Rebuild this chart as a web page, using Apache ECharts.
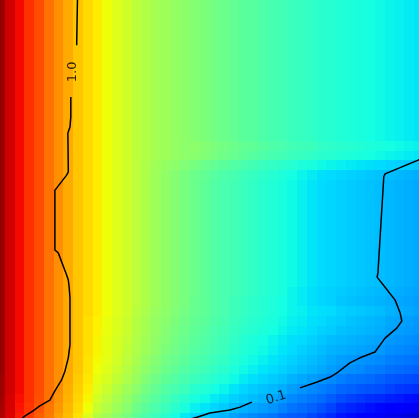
<!DOCTYPE html>
<html><head><meta charset="utf-8">
<script src="https://cdn.jsdelivr.net/npm/echarts/dist/echarts.min.js"></script>
<style>html,body{margin:0;padding:0;background:#fff;overflow:hidden}#c{width:419px;height:418px}</style>
</head><body><div id="c"></div>
<script>
// Column centres (x, 0..100) and row centres (y, top -> bottom)
const xCenters = [0,2.33,4.65,6.98,9.30,11.63,13.95,16.28,18.60,20.93,23.26,25.58,27.91,30.23,32.56,34.88,37.21,39.53,41.86,44.19,46.51,48.84,51.16,53.49,55.81,58.14,60.47,62.79,65.12,67.44,69.77,72.09,74.42,76.74,79.07,81.40,83.72,86.05,88.37,90.70,93.02,95.35,97.67,100];
const yCenters = [100,97.67,95.35,93.02,90.70,88.37,86.05,83.72,81.40,79.07,76.74,74.42,72.09,69.77,67.44,65.12,62.79,60.47,58.14,55.81,53.49,51.16,48.84,46.51,44.19,41.86,39.53,37.21,34.88,32.56,30.23,27.91,25.58,23.26,20.93,18.60,16.28,13.95,11.63,9.30,6.98,4.65,2.33,0];
// Field level (0..100 of the colour scale), one array per row, top -> bottom
const zRow00 = [98,93,90,86,83,79,76,73,70,68,66,64,62,60,58,56.5,55,54,53,52,51,50,49,48,47,46,45.5,44.5,43.5,43,42,41.5,41,40,39.5,39,38.5,38,37.5,37,36.5,36,35.5,35];
const zRow01 = [98,93,90,86,83,79,76,73,70,68,66,64,62,60,58,56.5,55,54,53,52,51,50,49,48,47,46,45.5,44.5,43.5,43,42,41.5,41,40,39.5,39,38.5,38,37.5,37,36.5,36,35.5,35];
const zRow02 = [98,93,90,86,83,79,76,73,70,68,66,64,62,60,58,56.5,55,54,53,52,51,50,49,48,47,46,45.5,44.5,43.5,43,42,41.5,41,40,39.5,39,38.5,38,37.5,37,36.5,36,35.5,35];
const zRow03 = [98,93,90,86,83,79,76,73,70,68,66,64,62,60,58,56.5,55,54,53,52,51,50,49,48,47,46,45.5,44.5,43.5,43,42,41.5,41,40,39.5,39,38.5,38,37.5,37,36.5,36,35.5,35];
const zRow04 = [98,93,90,86,83,79,76,73,70,68,66,64,62,60,58,56.5,55,54,53,52,51,50,49,48,47,46,45.5,44.5,43.5,43,42,41.5,41,40,39.5,39,38.5,38,37.5,37,36.5,36,35.5,35];
const zRow05 = [98,93,90,86,83,79,76,73,70,68,66,64,62,60,58,56.5,55,54,53,52,51,50,49,48,47,46,45.5,44.5,43.5,43,42,41.5,41,40,39.5,39,38.5,38,37.5,37,36.5,36,35.5,35];
const zRow06 = [98,93,90,86,83,79,76,73,70,68,66,64,62,60,58,56.5,55,54,53,52,51,50,49,48,47,46,45.5,44.5,43.5,43,42,41.5,41,40,39.5,39,38.5,38,37.5,37,36.5,36,35.5,35];
const zRow07 = [98,93,90,86,83,79,76,73,70,68,66,64,62,60,58,56.5,55,54,53,52,51,50,49,48,47,46,45.5,44.5,43.5,43,42,41.5,41,40,39.5,39,38.5,38,37.5,37,36.5,36,35.5,35];
const zRow08 = [98,93,90,86,83,79,76,73,70,68,66,64,62,60,58,56.5,55,54,53,52,51,50,49,48,47,46,45.5,44.5,43.5,43,42,41.5,41,40,39.5,39,38.5,38,37.5,37,36.5,36,35.5,35];
const zRow09 = [98,93,90,86,83,79,76,73,70,68,66,64,62,60,58,56.5,55,54,53,52,51,50,49,48,47,46,45.5,44.5,43.5,43,42,41.5,41,40,39.5,39,38.5,38,37.5,37,36.5,36,35.5,35];
const zRow10 = [98,93,90,86,83,79,76,73,70,68,66,64,62,60,58,56.5,55,54,53,52,51,50,49,48,47,46,45.5,44.5,43.5,43,42,41.5,41,40,39.5,39,38.5,38,37.5,37,36.5,36,35.5,35];
const zRow11 = [98,93,90,86,83,79,76,73,70,68,66,64,62,60,58,56.5,55,54,53,52,51,50,49,48,47,46,45.5,44.5,43.5,43,42,41.5,41,40,39.5,39,38.5,38,37.5,37,36.5,36,35.5,35];
const zRow12 = [98,93,90,86,83,79,76,73,70,68,66,64,62,60,58,56.5,55,54,53,52,51,50,49,48,47,46,45.5,44.5,43.5,43,42,41.5,41,40,39.5,39,38.5,38,37.5,37,36.5,36,35.5,35];
const zRow13 = [98,93,90,86,83,79,76,73,70,68,66,64,62,60,58,56.5,55,54,53,52,51,50,49,48,47,46,45.5,44.5,43.5,43,42,41.5,41,40,39.5,39,38.5,38,37.5,37,36.5,36,35.5,35];
const zRow14 = [98,93,90,86,83,79,76,73,70,68,66,64,62,60,58,56.5,55,54,53,52,51,50,49,48,47,46,45.5,44.5,43.5,43,42,41.5,41,40,39.5,39,38.5,38,37.5,37,36.5,36,35.5,35];
const zRow15 = [98,93,90,86,83,79,76,73,70,68,66,64,62,60,58,56.5,55,54,53,52,52,51,50,49,48,47,46.5,45.5,44.5,44,43,42.5,42,41,40.5,40,39.5,39,38.5,38,37.5,37,36.5,36];
const zRow16 = [98,93,90,86,83,79,76,73,70,68,66,64,62,60,58,56.5,55,54,53,52,51.5,50.5,49.5,48.5,47.5,46.5,45.5,44.5,43.5,43,42,41.5,41,40,39.5,39,38.5,38,37.5,37,36.5,36,35.5,35];
const zRow17 = [98,93,90,86,83,79,76,73,70,68,66,64,62,60,58,56,54.5,53,52,50.5,49.5,48,47,46,45,44,43,42,41,40.5,39.5,38.5,38,37,36.5,36,35.5,35,34.5,34,33.5,33,32.5,32];
const zRow18 = [98,93,90,86,83,79,76,73,70,68,66,64,62,60,58,56,54,52.5,51,49.5,48,47,45.5,44.5,43.5,42.5,41.5,40.5,39.5,38.5,37.5,36.5,35.5,34.5,34,33.5,33,32.5,32,31.5,31,30.5,30,29.5];
const zRow19 = [98,93,90,86,83,79,76,73,70,68,66,64,62,60,58,56,54,52.5,51,49.5,48,46.5,45,44,43,42,41,40,39,38,37,36,35,34,33.5,33,32.5,32,31.5,31,30.5,30,29.5,29];
const zRow20 = [98,93,90,86,83,79,76,73,70,68,66,64,62,60,58,56,54,52.5,51,49.5,48,46.5,45,44,43,42,41,40,39,38,37,36,35,34,33.5,33,32.5,32,31.5,31,30.5,30,29.5,29];
const zRow21 = [98,93,90,86,83,79,76,73,70,68,66,64,62,60,58,56,54,52.5,51,49.5,48,46.5,45,44,43,42,41,40,39,38,37,36,35,34,33.5,33,32.5,32,31.5,31,30.5,30,29.5,29];
const zRow22 = [98,93,90,86,83,79,76,73,70,68,66,64,62,60,58,56,54,52.5,51,49.5,48,46.5,45,44,43,42,41,40,39,38,37,36,35,34,33.5,33,32.5,32,31.5,31,30.5,30,29.5,29];
const zRow23 = [98,93,90,86,83,79,76,73,70,68,66,64,62,60,58,56,54,52.5,51,49.5,48,46.5,45,44,43,42,41,40,39,38,37,36,35,34,33.5,33,32.5,32,31.5,31,30.5,30,29.5,29];
const zRow24 = [98,93,90,86,83,79,76,73,70,68,66,64,62,60,58,56,54,52.5,51,49.5,48,46.5,45,44,43,42,41,40,39,38,37,36,35,34,33.5,33,32.5,32,31.5,31,30.5,30,29.5,29];
const zRow25 = [98,93,90,86,83,79,76,73,70,68,66,64,62,60,58,56,54,52.5,51,49.5,48,46.5,45,44,43,42,41,40,39,38,37,36,35,34,33.5,33,32.5,32,31.5,31,30.5,30,29.5,29];
const zRow26 = [98,93,90,86,83,79,76,73,70,68,66,64,62,60,58,56,54,52.5,51,49.5,48,46.5,45,44,43,42,41,40,39,38,37,36,35,34,33.5,33,32.5,32,31.5,31,30.5,30,29.5,29];
const zRow27 = [98,93,90,86,83,79,76,73,70,68,66,64,62,60,58,56,54,52.5,51,49.5,48,46.5,45,44,43,42,41,40,39,38,37,36,35,34,33.5,33,32.5,32,31.5,31,30.5,30,29.5,29];
const zRow28 = [98,93,90,86,83,79,76,73,70,68,66,64,62,60,58,56,54,52.5,51,49.5,48,46.5,45,44,43,42,41,40,39,38,37,36,35,34,33.5,33,32.5,32,31.5,31,30.5,30,29.5,29];
const zRow29 = [98,93,90,86,83,79,76,73,70,68,66,64,62,60,58,56,54,52.5,51,49.5,48,46.5,45,44,43,42,41,40,39,38,37,36,35,34,33.5,33,32.5,32,31.5,31,30.5,30,29.5,29];
const zRow30 = [98,93,90,86,83,79,76,73,70,68,66,64,62,60,58,56,54,52.5,51,49.5,48,46.5,45,44,43,42,41,40,39,38,36.5,35.5,34.5,33.5,33,32.5,32,31.5,31,30.5,30,29.5,29,28.5];
const zRow31 = [98,93,90,86,83,79,76,73,70,68,66,64,62,60,58,56,54,52.5,51,49.5,47.5,46.5,45,44,42.5,41.5,40.5,39.5,38.5,37.5,36.5,35.5,34.5,33.5,33,32,31.5,31,30.5,30,29.5,29,28.5,28];
const zRow32 = [98,93,90,86,83,79,76,73,70,68,66,64,62,60,57.5,55.5,53.5,52,50.5,49,47.5,46.5,45,44,42.5,41.5,40.5,39.5,38.5,37.5,36.5,36,35,34.5,34,33,32.5,32,31.5,31,30,29.5,29,28.5];
const zRow33 = [98,93,90,86,83,79,76,73,70,67.5,65.5,63.5,61.5,59.5,57,55,53,51.5,50,48.5,47,46,44.5,43.5,42,41,40,39,38,37,36,35.5,34.5,34,33,32.5,31.5,31,30.5,30,29,28.5,28,27.5];
const zRow34 = [98,93,90,86,83,79,76,73,70,67.5,65.5,63.5,61.5,59.5,57,55,53,51,49.5,48,46.5,45.5,44,43,41.5,40.5,39.5,38.5,37.5,36.5,35.5,35,34,33,32.5,31.5,31,30.5,30,29.5,28.5,28,27.5,27];
const zRow35 = [98,93,90,86,83,79,76,73,70,67.5,65,63,61,59,56.5,54.5,52.5,50.5,49,47.5,46,45,43.5,42.5,41,39.5,38.5,37.5,36.5,35.5,34.5,34,33,32,31,30.5,30,29.5,29,28.5,27.5,27,26.5,26];
const zRow36 = [98,93,90,86,83,79,76,73,70,67.5,65,63,61,58.5,56,54,52,50,48.5,47,45.5,44.5,43,42,40.5,39,38,37,36,35,34,33,32,31,30,29.5,29,28.5,28,27.5,26.5,26,25.5,25];
const zRow37 = [98,93,90,86,83,79,76,73,70,67,64.5,62.5,60.5,58,55.5,53,51,49,47.5,46,44.5,43.5,42,41,39.5,38,37,36,35,34,33,32,31,30,29,28,27.5,27,26.5,26,25,24.5,24,23.5];
const zRow38 = [98,93,90,86,83,79,76,73,70,67,64,62,59.5,57,54.5,52,50,48,46.5,45,43.5,42.5,41,40,38.5,37,36,35,34,33,32,31,30,29,28,27,26.5,26,25,24.5,23.5,23,22.5,22];
const zRow39 = [97.5,93,90,86,83,79,76,73,69.5,66.5,63,61,58.5,56,53.5,50.5,48.5,46.5,45,43.5,42,41,39.5,38.5,37,35.5,34.5,33.5,32.5,31.5,30,29,28,27,26,25,24,23.5,23,22,21,20.5,20,19.5];
const zRow40 = [97.5,93,90,86,83,79,76,72.5,69,66,62,59.5,57,54.5,52,49,47,45,43.5,42,40,39,37.5,36.5,35,33.5,32.5,31.5,30.5,29.5,28,27,26,25,24,22.5,22,21,20.5,20,19,18,17.5,17];
const zRow41 = [97,92.5,89.5,86,82.5,79,75.5,72,68.5,65,60.5,58,55.5,53,50,47.5,45.5,43.5,41.5,40,38,37,35.5,34.5,33,32,31,30,29,27.5,26,25,24,23,21.5,20,19,18,17,16.5,15.5,15,14,13.5];
const zRow42 = [96.5,92.5,89,85.5,82,78.5,75,71.5,68,64,59,56.5,54,51.5,48.5,46,44,42,40,38,36,35,33.5,32.5,31,30,29,28,27,25.5,24,23,22,20.5,19,17,16,15,14,13,12,11,10.5,10];
const zRow43 = [96,92,88,85,81,78,74,71,67,62,57,54.5,52,49.5,46.5,44,42,40,37.5,35.5,33.5,32.5,31,30,28.5,27,26,25,24,22.5,21.5,21,19.5,18,16.5,14.5,13.5,12.5,11.5,10.5,9.5,9,8,7];
const zRows = [zRow00,zRow01,zRow02,zRow03,zRow04,zRow05,zRow06,zRow07,zRow08,zRow09,zRow10,zRow11,zRow12,zRow13,zRow14,zRow15,zRow16,zRow17,zRow18,zRow19,zRow20,zRow21,zRow22,zRow23,zRow24,zRow25,zRow26,zRow27,zRow28,zRow29,zRow30,zRow31,zRow32,zRow33,zRow34,zRow35,zRow36,zRow37,zRow38,zRow39,zRow40,zRow41,zRow42,zRow43];

// Contour lines (x, y) in the same data space
const contour10a = [[18.5,100.5],[18.4,95.2],[18.3,89.2]];
const contour10b = [[16.9,76.8],[16.9,72.0],[16.7,69.6],[16.2,68.2],[16.3,58.9],[15.9,58.1],[13.5,55.0],[13.1,54.5],[13.1,40.2],[13.9,39.5],[15.9,34.2],[16.3,33.0],[16.5,31.4],[16.7,28.7],[16.7,17.5],[16.3,14.4],[15.5,11.2],[14.7,9.1],[13.1,6.5],[11.9,4.3],[9.5,2.9],[7.9,1.7],[6.0,0.5],[4.8,-0.5]];
const contour01a = [[100.5,62],[91.9,58.4],[91.6,57.7],[90.2,34.7],[90.0,33.7],[91.9,31.3],[94.3,28.2],[95.5,25.1],[95.9,23.2],[94.7,21.5],[91.9,19.1],[89.5,15.8],[85.9,14.4],[83.5,13.2],[80.7,11.0],[78.8,9.8],[75.7,8.6],[71.6,7.2]];
const contour01b = [[60.1,3.8],[57.3,2.6],[54.9,1.9],[50.1,1.2],[47.0,0.2],[45.3,-0.3]];
const contourLabels = [{pos:[17.4,82.8], text:'1.0', rotate:90},{pos:[65.9,4.8], text:'0.1', rotate:17}];

// jet colour map
function jet(t){
  function seg(pts){for(let k=0;k<pts.length-1;k++){const a=pts[k],b=pts[k+1];if(t>=a[0]&&t<=b[0]){return a[1]+(b[1]-a[1])*(t-a[0])/(b[0]-a[0]);}}return pts[pts.length-1][1];}
  const r=seg([[0,0],[0.35,0],[0.66,1],[0.89,1],[1,0.5]]);
  const g=seg([[0,0],[0.125,0],[0.375,1],[0.64,1],[0.91,0],[1,0]]);
  const b=seg([[0,0.5],[0.11,1],[0.34,1],[0.65,0],[1,0]]);
  const h=v=>Math.round(v*255).toString(16).padStart(2,'0');
  return '#'+h(r)+h(g)+h(b);
}
const jetColors=[];for(let k=0;k<=200;k++)jetColors.push(jet(k/200));

const xEdges=[xCenters[0]-(xCenters[1]-xCenters[0])/2];
for(let i=0;i<xCenters.length-1;i++)xEdges.push((xCenters[i]+xCenters[i+1])/2);
xEdges.push(xCenters[xCenters.length-1]+(xCenters[xCenters.length-1]-xCenters[xCenters.length-2])/2);
const yEdges=[yCenters[0]-(yCenters[1]-yCenters[0])/2];
for(let j=0;j<yCenters.length-1;j++)yEdges.push((yCenters[j]+yCenters[j+1])/2);
yEdges.push(yCenters[yCenters.length-1]+(yCenters[yCenters.length-1]-yCenters[yCenters.length-2])/2);

const cells=[];
zRows.forEach((row,j)=>row.forEach((z,i)=>cells.push([xCenters[i],yCenters[j],z,i,j])));

const chart=echarts.init(document.getElementById('c'),null,{renderer:'canvas'});
const lineStyle={color:'#000',width:1.5};
chart.setOption({
  animation:false,
  grid:{left:0,right:0,top:0,bottom:0,containLabel:false},
  xAxis:{type:'value',min:0,max:100,position:'top',axisLine:{show:true,onZero:false,lineStyle:{color:'#000',width:2}},axisTick:{show:false},axisLabel:{show:false},splitLine:{show:false}},
  yAxis:{type:'value',min:0,max:100,show:false},
  visualMap:{show:false,type:'continuous',min:0,max:100,dimension:2,seriesIndex:0,inRange:{color:jetColors}},
  series:[
    {type:'custom',data:cells,encode:{x:0,y:1},clip:true,
     renderItem:function(params,api){
       const i=api.value(3),j=api.value(4);
       const p0=api.coord([xEdges[i],yEdges[j]]),p1=api.coord([xEdges[i+1],yEdges[j+1]]);
       const xa=Math.round(Math.min(p0[0],p1[0])),xb=Math.round(Math.max(p0[0],p1[0]));
       const ya=Math.round(Math.min(p0[1],p1[1])),yb=Math.round(Math.max(p0[1],p1[1]));
       return {type:'rect',shape:{x:xa,y:ya,width:xb-xa,height:yb-ya},style:{fill:api.visual('color'),stroke:null,lineWidth:0}};
     }},
    {type:'line',data:contour10a,showSymbol:false,lineStyle,z:5},
    {type:'line',data:contour10b,showSymbol:false,lineStyle,z:5},
    {type:'line',data:contour01a,showSymbol:false,lineStyle,z:5},
    {type:'line',data:contour01b,showSymbol:false,lineStyle,z:5},
    {type:'scatter',symbolSize:1,itemStyle:{color:'rgba(0,0,0,0)'},z:6,
     data:contourLabels.map(d=>({value:d.pos,label:{show:true,formatter:d.text,rotate:d.rotate,position:'inside',color:'#000',fontSize:13,fontFamily:'DejaVu Sans'}}))}
  ]
});
</script></body></html>
